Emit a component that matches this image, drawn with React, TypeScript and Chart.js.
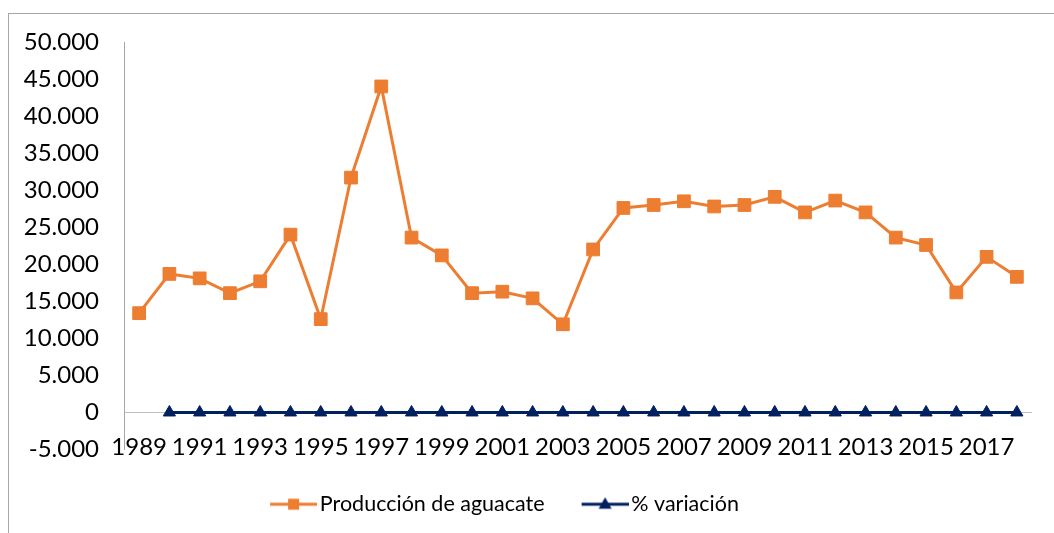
import { useEffect, useRef } from 'react';
import { Chart, registerables } from 'chart.js';

Chart.register(...registerables);

const years = [
  '1989', '1990', '1991', '1992', '1993', '1994', '1995', '1996', '1997', '1998',
  '1999', '2000', '2001', '2002', '2003', '2004', '2005', '2006', '2007', '2008',
  '2009', '2010', '2011', '2012', '2013', '2014', '2015', '2016', '2017', '2018',
];

const produccion = [
  13400, 18700, 18100, 16100, 17700, 24000, 12600, 31700, 44000, 23600,
  21200, 16100, 16300, 15400, 11900, 22000, 27600, 28000, 28500, 27800,
  28000, 29100, 27000, 28600, 27000, 23600, 22600, 16200, 21000, 18300,
];

const variacion = [
  null, 0, 0, 0, 0, 0, 0, 0, 0, 0,
  0, 0, 0, 0, 0, 0, 0, 0, 0, 0,
  0, 0, 0, 0, 0, 0, 0, 0, 0, 0,
];

const seriesNames = ['Producción de aguacate', '% variación'];
const seriesColors = ['#ED7D31', '#002060'];
const yMin = -5000;
const yMax = 50000;
const yStep = 5000;

const FONT = 'Lato, "Open Sans", sans-serif';

function fmt(v: number): string {
  const s = Math.abs(v).toString().replace(/\B(?=(\d{3})+(?!\d))/g, '.');
  return (v < 0 ? '-' : '') + s;
}

function makeSample(color: string, kind: 'rect' | 'triangle'): HTMLCanvasElement {
  const w = 82;
  const h = 16;
  const c = document.createElement('canvas');
  c.width = w;
  c.height = h;
  const ctx = c.getContext('2d')!;
  const x0 = w - 47;
  const cy = 8;
  ctx.strokeStyle = color;
  ctx.lineWidth = 3;
  ctx.beginPath();
  ctx.moveTo(x0, cy);
  ctx.lineTo(w, cy);
  ctx.stroke();
  ctx.fillStyle = color;
  const cx = x0 + 23.5;
  if (kind === 'rect') {
    ctx.fillRect(cx - 5.5, cy - 5.5, 11, 11);
  } else {
    ctx.beginPath();
    ctx.moveTo(cx, cy - 7);
    ctx.lineTo(cx + 6.5, cy + 4.5);
    ctx.lineTo(cx - 6.5, cy + 4.5);
    ctx.closePath();
    ctx.fill();
  }
  return c;
}

export default function App() {
  const ref = useRef<HTMLCanvasElement>(null);

  useEffect(() => {
    if (!ref.current) return;
    const samples = [makeSample(seriesColors[0], 'rect'), makeSample(seriesColors[1], 'triangle')];
    const chart = new Chart(ref.current, {
      type: 'line',
      data: {
        labels: years,
        datasets: [
          {
            label: seriesNames[0],
            data: produccion,
            borderColor: seriesColors[0],
            backgroundColor: seriesColors[0],
            borderWidth: 3,
            pointStyle: 'rect',
            pointRadius: 9,
            pointBorderWidth: 1,
            pointBackgroundColor: seriesColors[0],
            pointBorderColor: seriesColors[0],
            tension: 0,
          },
          {
            label: seriesNames[1],
            data: variacion,
            borderColor: seriesColors[1],
            backgroundColor: seriesColors[1],
            borderWidth: 3,
            pointStyle: 'triangle',
            pointRadius: 7,
            pointBorderWidth: 1,
            pointBackgroundColor: seriesColors[1],
            pointBorderColor: seriesColors[1],
            tension: 0,
          },
        ],
      },
      options: {
        responsive: false,
        animation: false,
        devicePixelRatio: 1,
        layout: { padding: { top: 42, right: 0, bottom: 8, left: 0 } },
        scales: {
          x: {
            type: 'category',
            offset: true,
            grid: { display: false, drawTicks: false },
            border: { display: false },
            ticks: {
              autoSkip: false,
              maxRotation: 0,
              minRotation: 0,
              mirror: true,
              padding: -12,
              color: '#000',
              font: { family: FONT, size: 24 },
              callback: (_v: any, i: number) => (i % 2 === 0 ? years[i] : ''),
            },
            afterFit: (s: any) => {
              s.height = 34;
            },
          },
          y: {
            min: yMin,
            max: yMax,
            grid: {
              drawTicks: false,
              color: (c: any) => (c.tick && c.tick.value === 0 ? '#bfbfbf' : 'rgba(0,0,0,0)'),
              lineWidth: 1,
            },
            border: { display: true, color: '#a6a6a6', width: 1 },
            ticks: {
              stepSize: yStep,
              padding: 25,
              color: '#000',
              font: { family: FONT, size: 24 },
              callback: (v: any) => fmt(Number(v)),
            },
            afterFit: (s: any) => {
              s.width = 184;
            },
          },
        },
        plugins: {
          tooltip: { enabled: false },
          legend: {
            position: 'bottom',
            labels: {
              usePointStyle: true,
              pointStyleWidth: 66,
              padding: 10,
              color: '#000',
              font: { family: FONT, size: 21.5 },
              generateLabels: (ch: any) => {
                const items = (Chart.defaults.plugins.legend.labels as any).generateLabels(ch);
                items.forEach((it: any, i: number) => {
                  it.pointStyle = samples[i];
                  it.fontColor = '#000';
                });
                return items;
              },
            },
          },
        },
      },
    });
    return () => chart.destroy();
  }, []);

  return (
    <div
      style={{
        position: 'fixed',
        left: 0,
        top: 0,
        width: 1054,
        height: 533,
        overflow: 'hidden',
        background: '#fff',
      }}
    >
      <div
        style={{
          position: 'absolute',
          left: 8,
          top: 13,
          width: 2000,
          height: 2000,
          border: '1px solid #a6a6a6',
        }}
      />
      <canvas
        ref={ref}
        width={1102}
        height={533}
        style={{ position: 'absolute', left: -60, top: 0, width: 1102, height: 533 }}
      />
    </div>
  );
}
